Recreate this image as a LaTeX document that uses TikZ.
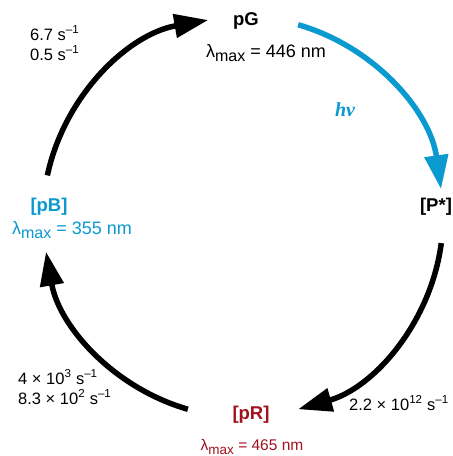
\documentclass[tikz,border=0pt]{standalone}
\usepackage{fontspec}
\setmainfont{Liberation Sans}
\newfontfamily\hnufont{Liberation Serif}
\usepackage{xcolor}
\usetikzlibrary{arrows.meta, positioning, calc}
\definecolor{cyanB}{RGB}{10,154,208}
\definecolor{redR}{RGB}{160,18,30}
\newcommand{\lammax}[1]{λ\raisebox{-0.45ex}{\fontsize{#1}{#1}\selectfont max}}
\newcommand{\rate}[1]{#1 s\textsuperscript{--1}}

\begin{document}
\begin{tikzpicture}[x=1pt, y=1pt,
  state/.style={font=\fontsize{18.5}{18.5}\selectfont\bfseries, inner sep=0pt},
  lam/.style={font=\fontsize{18}{18}\selectfont, inner sep=0pt},
  kin/.style={font=\fontsize{16.5}{20}\selectfont, inner sep=0pt, align=left},
  cyc/.style={line width=5.5pt, -{Triangle[length=34pt, width=23pt]}}
]
  \useasboundingbox (0,0) rectangle (453,456);
  \coordinate (c) at (243,239);

  % states
  \node[state] (pG) at (246,435) {pG};
  \node[lam] (pGlam) at (266,403) {\lammax{16} = 446 nm};
  \node[state, text=cyanB] (pB) at (49,249) {[pB]};
  \node[lam, text=cyanB] (pBlam) at (72,226) {\lammax{16} = 355 nm};
  \node[state] (Pstar) at (436,249) {[P*]};
  \node[state, text=redR] (pR) at (251,41) {[pR]};
  \node[lam, text=redR, font=\fontsize{15.5}{15.5}\selectfont] (pRlam) at (252,9) {\lammax{13.5} = 465 nm};

  % rates
  \node[kin, anchor=west] (kG) at (30,413) {\rate{6.7}\\\rate{0.5}};
  \node[kin, anchor=west] (kB) at (18,69) {\rate{4 × 10\textsuperscript{3}}\\\rate{8.3 × 10\textsuperscript{2}}};
  \node[kin, anchor=west] (kR) at (349,53) {\rate{2.2 × 10\textsuperscript{12}}};
  \node[font=\fontsize{20}{20}\selectfont\hnufont\bfseries\itshape, text=cyanB] (hnu) at (345,346) {hν};

  % cycle
  \draw[cyc] ($(c)+(168:200)$) arc[start angle=168, end angle=100, radius=200];
  \draw[cyc, cyanB] ($(c)+(74:200)$) arc[start angle=74, end angle=8, radius=200];
  \draw[cyc] ($(c)+(-7.5:200)$) arc[start angle=-7.5, end angle=-74, radius=200];
  \draw[cyc] ($(c)+(254:200)$) arc[start angle=254, end angle=190, radius=200];
\end{tikzpicture}
\end{document}
